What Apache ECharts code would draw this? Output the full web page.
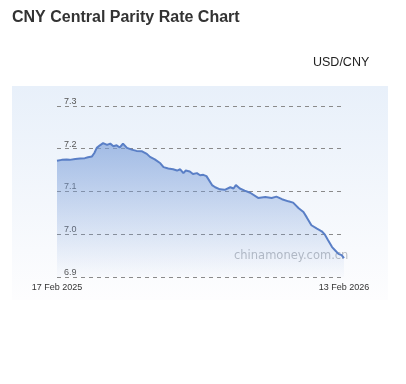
<!DOCTYPE html>
<html><head><meta charset="utf-8">
<script src="https://cdn.jsdelivr.net/npm/echarts@6/dist/echarts.min.js"></script>
<style>html,body{margin:0;padding:0;background:#fff}#c{width:406px;height:384px}</style>
</head><body><div id="c"></div>
<script>
// days since 17 Feb 2025
const days = [0,6,12,16,23,29,35,39,44,47,50,54,58,63,67,71,75,79,83,88,94,100,107,113,117,123,130,134,140,146,151,155,159,162,167,171,176,180,184,188,190,195,199,205,211,218,222,225,230,236,243,253,262,270,276,283,291,297,304,310,314,320,327,333,337,341,346,350,354,358,361];
const rates = [7.172,7.174,7.175,7.174,7.176,7.177,7.178,7.180,7.182,7.190,7.202,7.208,7.213,7.209,7.212,7.206,7.208,7.203,7.212,7.202,7.198,7.195,7.194,7.188,7.181,7.175,7.166,7.157,7.154,7.152,7.149,7.152,7.143,7.149,7.147,7.141,7.143,7.138,7.139,7.136,7.135,7.115,7.110,7.105,7.104,7.110,7.107,7.115,7.107,7.102,7.097,7.085,7.087,7.085,7.088,7.082,7.077,7.074,7.061,7.052,7.040,7.021,7.013,7.007,6.999,6.986,6.970,6.962,6.954,6.951,6.944];
const yTicks = {min: 6.9, max: 7.3, interval: 0.1};
const xLabels = {first: "17 Feb 2025", last: "13 Feb 2026"};
const totalDays = 361;

const chart = echarts.init(document.getElementById('c'), null, {renderer: 'canvas'});
chart.setOption({
  animation: false,
  backgroundColor: '#fff',
  title: {
    text: 'CNY Central Parity Rate Chart', left: 12, top: 10, padding: 0,
    textStyle: {fontFamily: 'Liberation Sans, Arial, sans-serif', fontSize: 16, fontWeight: 'bold', color: '#333'}
  },
  graphic: [
    {type: 'rect', z: -10, shape: {x: 12, y: 86, width: 376, height: 214},
     style: {fill: new echarts.graphic.LinearGradient(0, 0, 0, 1, [
       {offset: 0, color: '#e8f0fa'}, {offset: 1, color: '#fdfdfe'}])}},
    {type: 'text', z: -5, left: 313, top: 56,
     style: {text: 'USD/CNY', fill: '#222', font: '12.5px "Liberation Sans", Arial, sans-serif'}},
    {type: 'text', z: -5, left: 234, top: 250,
     style: {text: 'chinamoney.com.cn', fill: '#b8bcc2', font: '11.5px "DejaVu Sans", Verdana, sans-serif'}}
  ],
  grid: {left: 57, right: 62, top: 106, bottom: 107},
  xAxis: {
    type: 'value', min: 0, max: totalDays, interval: totalDays,
    axisLine: {show: false}, axisTick: {show: false}, splitLine: {show: false},
    axisLabel: {
      formatter: (v) => v === 0 ? xLabels.first : xLabels.last,
      margin: 6, fontSize: 9, color: '#333', fontFamily: 'Liberation Sans, Arial, sans-serif'
    }
  },
  yAxis: {
    type: 'value', min: yTicks.min, max: yTicks.max, interval: yTicks.interval,
    axisLine: {show: false}, axisTick: {show: false},
    splitLine: {lineStyle: {color: '#8a8a8a', type: [4, 4], width: 1}},
    axisLabel: {
      inside: true, margin: 7, verticalAlign: 'bottom', padding: [0, 0, 0, 0],
      fontSize: 9, color: '#555', fontFamily: 'Liberation Sans, Arial, sans-serif',
      formatter: (v) => v.toFixed(1)
    }
  },
  series: [{
    type: 'line', data: days.map((d, i) => [d, rates[i]]), symbol: 'none', smooth: false,
    lineStyle: {color: '#5a7fc6', width: 2},
    areaStyle: {color: new echarts.graphic.LinearGradient(0, 0, 0, 1, [
      {offset: 0, color: 'rgba(118,155,216,0.9)'},
      {offset: 1, color: 'rgba(118,155,216,0.03)'}])}
  }]
});
</script></body></html>
